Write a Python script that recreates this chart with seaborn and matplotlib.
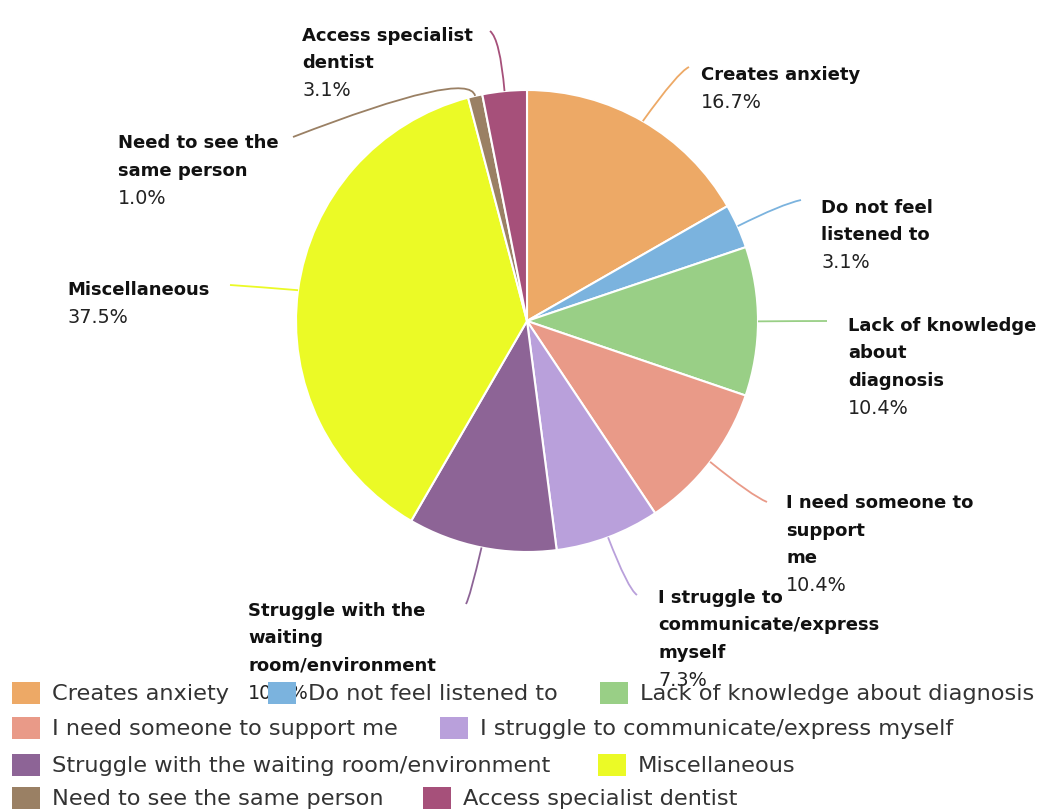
import matplotlib
matplotlib.use("Agg")
import matplotlib.pyplot as plt
from matplotlib.path import Path
from matplotlib.patches import PathPatch, Rectangle
import numpy as np
import seaborn as sns

# Survey answers and their shares (%)
categories = [
    "Creates anxiety",
    "Do not feel listened to",
    "Lack of knowledge about diagnosis",
    "I need someone to support me",
    "I struggle to communicate/express myself",
    "Struggle with the waiting room/environment",
    "Miscellaneous",
    "Need to see the same person",
    "Access specialist dentist",
]
shares = [16.7, 3.1, 10.4, 10.4, 7.3, 10.4, 37.5, 1.0, 3.1]
share_labels = ["16.7%", "3.1%", "10.4%", "10.4%", "7.3%", "10.4%", "37.5%", "1.0%", "3.1%"]
hex_colors = ["#EDA966", "#7BB3DE", "#99CF86", "#E99A88", "#B9A0DB",
              "#8D6496", "#EBFA26", "#9A8064", "#A6507A"]

# Wrapped category names used for the callouts
callout_names = [
    "Creates anxiety",
    "Do not feel\nlistened to",
    "Lack of knowledge\nabout\ndiagnosis",
    "I need someone to\nsupport\nme",
    "I struggle to\ncommunicate/express\nmyself",
    "Struggle with the\nwaiting\nroom/environment",
    "Miscellaneous",
    "Need to see the\nsame person",
    "Access specialist\ndentist",
]

sns.set_theme(style="white")
plt.rcParams["font.family"] = ["DejaVu Sans"]
palette = sns.color_palette(hex_colors)

W, H = 1045, 812
fig = plt.figure(figsize=(W / 100, H / 100), dpi=100)
ax = fig.add_axes([0, 0, 1, 1])


def Y(y):
    # pixel row (top-down) to axis y
    return H - y


cx, cy, R = 527, 322, 231
wedges, _ = ax.pie(shares, colors=palette, startangle=90, counterclock=False,
                   center=(cx, Y(cy)), radius=R, frame=True,
                   wedgeprops=dict(edgecolor="white", linewidth=1.5))
ax.set_xlim(0, W)
ax.set_ylim(0, H)
ax.set_aspect("equal")
ax.axis("off")

# Callout layout: elbow point, end point, text x, first line centre y (pixels)
layout = [
    ((678, 73), (689, 68), 701, 75),
    ((782, 205), (801, 201), 821, 208),
    ((800, 322), (827, 322), 848, 326),
    ((752, 497), (767, 503), 786, 503),
    ((628, 590), (637, 596), 658, 598),
    ((470, 598), (466, 605), 248, 611),
    ((260, 288), (230, 286), 67, 290),
    ((469, 70), (293, 138), 118, 143),
    ((500, 40), (490, 32), 302, 36),
]

line_h = 27.5
for w, name, pct, col, (elb, end, tx, ty) in zip(wedges, callout_names, share_labels,
                                                  palette, layout):
    mid = np.deg2rad((w.theta1 + w.theta2) / 2)
    sx, sy = cx + R * np.cos(mid), Y(cy) + R * np.sin(mid)
    verts = [(sx, sy), (elb[0], Y(elb[1])), (end[0], Y(end[1]))]
    codes = [Path.MOVETO, Path.CURVE3, Path.CURVE3]
    ax.add_patch(PathPatch(Path(verts, codes), facecolor="none",
                           edgecolor=col, linewidth=1.3, zorder=2))
    lines = name.split("\n")
    for i, ln in enumerate(lines):
        ax.text(tx, Y(ty + i * line_h), ln, fontsize=13, fontweight="bold",
                color="#111111", ha="left", va="center", zorder=3)
    ax.text(tx, Y(ty + len(lines) * line_h), pct, fontsize=13.8,
            color="#222222", ha="left", va="center", zorder=3)

# Legend rows: (index, square x) per row, row centre y
legend_rows = [
    (694, [(0, 12), (1, 268), (2, 600)]),
    (729, [(3, 12), (4, 440)]),
    (766, [(5, 12), (6, 598)]),
    (799, [(7, 12), (8, 423)]),
]
for ry, items in legend_rows:
    for idx, sx in items:
        ax.add_patch(Rectangle((sx, Y(ry) - 11), 28, 22, facecolor=palette[idx],
                               edgecolor="none", zorder=5))
        ax.text(sx + 40, Y(ry), categories[idx], fontsize=16.2, color="#333333",
                ha="left", va="center", zorder=5)

fig.savefig("out.png", dpi=100, facecolor="white")
